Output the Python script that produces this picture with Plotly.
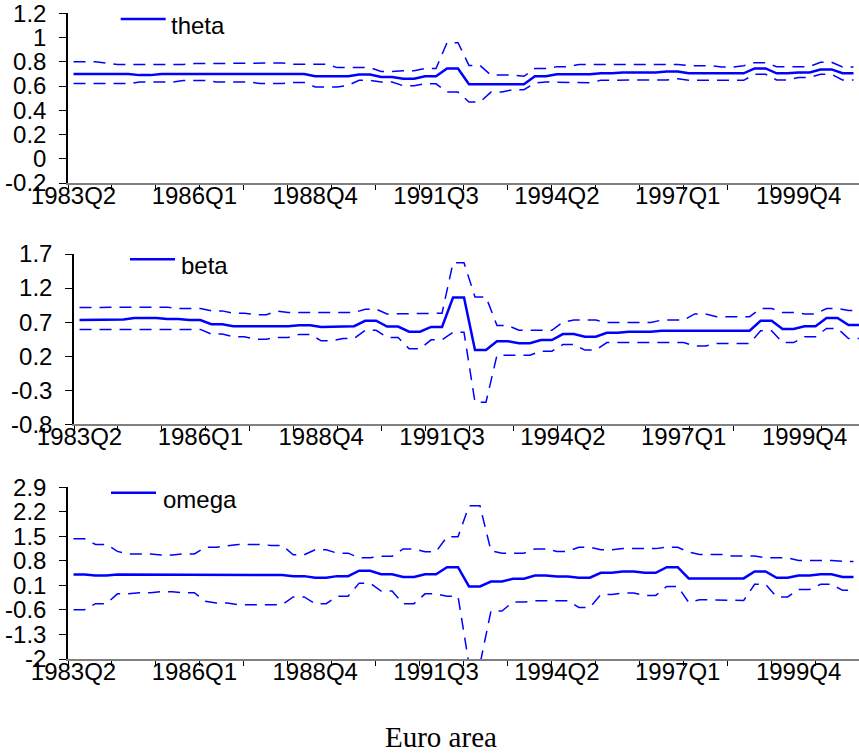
import plotly.graph_objects as go

# ---------------- data ----------------
all_q = [f"{y}Q{q}" for y in range(1983, 2002) for q in range(1, 5)]
quarters = all_q[1:73]  # 1983Q2 .. 2001Q1
tick_labels = ["1983Q2", "1986Q1", "1988Q4", "1991Q3", "1994Q2", "1997Q1", "1999Q4"]

theta = [0.70, 0.70, 0.70, 0.70, 0.70, 0.70, 0.69, 0.69, 0.70, 0.70, 0.70, 0.70,
         0.70, 0.70, 0.70, 0.70, 0.70, 0.70, 0.70, 0.70, 0.70, 0.70, 0.68, 0.68,
         0.68, 0.68, 0.695, 0.695, 0.675, 0.675, 0.66, 0.66, 0.68, 0.68, 0.745, 0.745,
         0.615, 0.615, 0.615, 0.615, 0.615, 0.615, 0.68, 0.68, 0.697, 0.697, 0.697, 0.697,
         0.705, 0.705, 0.712, 0.712, 0.712, 0.712, 0.72, 0.72, 0.705, 0.705, 0.705, 0.705,
         0.705, 0.705, 0.745, 0.745, 0.705, 0.705, 0.712, 0.712, 0.737, 0.737, 0.705, 0.705]
theta_up = [0.80, 0.80, 0.80, 0.79, 0.778, 0.778, 0.778, 0.778, 0.778, 0.778, 0.778, 0.785,
            0.785, 0.785, 0.785, 0.785, 0.79, 0.79, 0.79, 0.79, 0.78, 0.78, 0.78, 0.78,
            0.752, 0.752, 0.752, 0.752, 0.72, 0.72, 0.727, 0.727, 0.744, 0.744, 0.958, 0.958,
            0.77, 0.77, 0.69, 0.69, 0.69, 0.68, 0.744, 0.744, 0.76, 0.76, 0.777, 0.777,
            0.777, 0.777, 0.777, 0.777, 0.777, 0.777, 0.777, 0.777, 0.768, 0.768, 0.768, 0.757,
            0.757, 0.768, 0.793, 0.793, 0.76, 0.76, 0.76, 0.76, 0.796, 0.796, 0.757, 0.757]
theta_lo = [0.62, 0.62, 0.62, 0.62, 0.62, 0.62, 0.633, 0.633, 0.633, 0.633, 0.645, 0.645,
            0.645, 0.633, 0.633, 0.633, 0.633, 0.62, 0.62, 0.62, 0.63, 0.63, 0.592, 0.592,
            0.592, 0.606, 0.647, 0.647, 0.633, 0.633, 0.603, 0.603, 0.618, 0.618, 0.55, 0.55,
            0.468, 0.468, 0.55, 0.55, 0.57, 0.57, 0.625, 0.633, 0.633, 0.633, 0.627, 0.627,
            0.647, 0.65, 0.65, 0.65, 0.65, 0.65, 0.65, 0.66, 0.647, 0.647, 0.647, 0.647,
            0.647, 0.647, 0.697, 0.697, 0.65, 0.65, 0.67, 0.67, 0.697, 0.697, 0.65, 0.65]

beta = [0.73, 0.73, 0.73, 0.73, 0.74, 0.76, 0.76, 0.76, 0.745, 0.745, 0.73, 0.73,
        0.67, 0.67, 0.64, 0.64, 0.64, 0.63, 0.63, 0.64, 0.655, 0.655, 0.63, 0.63,
        0.64, 0.64, 0.72, 0.72, 0.635, 0.635, 0.56, 0.56, 0.63, 0.63, 1.06, 1.06,
        0.29, 0.29, 0.42, 0.42, 0.39, 0.39, 0.436, 0.436, 0.524, 0.524, 0.485, 0.485,
        0.543, 0.543, 0.558, 0.558, 0.558, 0.572, 0.572, 0.572, 0.572, 0.572, 0.572, 0.572,
        0.572, 0.575, 0.72, 0.72, 0.60, 0.60, 0.64, 0.64, 0.76, 0.76, 0.656, 0.656]
beta_up = [0.915, 0.915, 0.915, 0.915, 0.915, 0.92, 0.92, 0.92, 0.92, 0.90, 0.90, 0.90,
           0.865, 0.865, 0.83, 0.83, 0.81, 0.81, 0.86, 0.84, 0.84, 0.84, 0.84, 0.84,
           0.84, 0.84, 0.89, 0.89, 0.82, 0.82, 0.83, 0.83, 0.83, 0.83, 1.57, 1.57,
           1.07, 1.07, 0.65, 0.65, 0.58, 0.58, 0.58, 0.58, 0.70, 0.73, 0.73, 0.73,
           0.695, 0.695, 0.695, 0.695, 0.695, 0.73, 0.73, 0.73, 0.82, 0.82, 0.78, 0.78,
           0.78, 0.78, 0.90, 0.90, 0.84, 0.84, 0.82, 0.82, 0.90, 0.90, 0.87, 0.87]
beta_lo = [0.593, 0.593, 0.593, 0.593, 0.593, 0.593, 0.593, 0.593, 0.593, 0.593, 0.593, 0.593,
           0.524, 0.524, 0.485, 0.485, 0.45, 0.45, 0.475, 0.475, 0.52, 0.52, 0.426, 0.426,
           0.46, 0.46, 0.58, 0.58, 0.475, 0.475, 0.31, 0.31, 0.44, 0.44, 0.55, 0.55,
           -0.475, -0.475, 0.215, 0.215, 0.215, 0.215, 0.274, 0.274, 0.37, 0.37, 0.29, 0.29,
           0.40, 0.40, 0.40, 0.40, 0.40, 0.40, 0.40, 0.40, 0.35, 0.35, 0.387, 0.387,
           0.387, 0.387, 0.572, 0.572, 0.40, 0.40, 0.485, 0.485, 0.607, 0.607, 0.46, 0.46]

omega = [0.41, 0.41, 0.385, 0.385, 0.41, 0.41, 0.41, 0.41, 0.41, 0.41, 0.41, 0.395,
         0.395, 0.395, 0.395, 0.395, 0.395, 0.395, 0.395, 0.395, 0.365, 0.365, 0.32, 0.32,
         0.365, 0.365, 0.52, 0.52, 0.42, 0.42, 0.34, 0.34, 0.42, 0.42, 0.62, 0.62,
         0.07, 0.07, 0.21, 0.21, 0.29, 0.29, 0.38, 0.38, 0.355, 0.355, 0.32, 0.32,
         0.46, 0.46, 0.50, 0.50, 0.46, 0.46, 0.62, 0.62, 0.30, 0.30, 0.30, 0.30,
         0.30, 0.30, 0.50, 0.50, 0.32, 0.32, 0.38, 0.38, 0.42, 0.42, 0.34, 0.34]
omega_up = [1.43, 1.43, 1.27, 1.27, 1.07, 1.0, 1.0, 1.0, 0.965, 0.965, 1.0, 1.0,
            1.19, 1.19, 1.23, 1.27, 1.27, 1.27, 1.24, 1.24, 0.975, 0.975, 1.12, 1.12,
            1.02, 1.02, 0.89, 0.89, 0.93, 0.93, 1.14, 1.14, 1.06, 1.06, 1.49, 1.49,
            2.37, 2.37, 1.09, 1.02, 1.02, 1.02, 1.14, 1.14, 1.07, 1.07, 1.19, 1.19,
            1.12, 1.12, 1.15, 1.15, 1.15, 1.15, 1.19, 1.19, 1.05, 0.985, 0.985, 0.985,
            0.94, 0.94, 0.94, 0.89, 0.89, 0.89, 0.81, 0.81, 0.81, 0.81, 0.785, 0.785]
omega_lo = [-0.595, -0.595, -0.42, -0.42, -0.14, -0.14, -0.11, -0.11, -0.08, -0.08, -0.11, -0.11,
            -0.35, -0.405, -0.405, -0.45, -0.45, -0.45, -0.45, -0.45, -0.23, -0.23, -0.42, -0.42,
            -0.21, -0.21, 0.165, 0.165, -0.06, -0.06, -0.42, -0.42, -0.14, -0.14, -0.21, -0.21,
            -2.15, -2.15, -0.63, -0.63, -0.375, -0.375, -0.34, -0.34, -0.34, -0.34, -0.53, -0.53,
            -0.16, -0.16, -0.12, -0.12, -0.185, -0.185, 0.07, 0.07, -0.385, -0.31, -0.31, -0.31,
            -0.33, -0.33, 0.13, 0.13, -0.23, -0.23, -0.015, -0.015, 0.13, 0.13, -0.04, -0.04]

theta_ticks = [-0.2, 0, 0.2, 0.4, 0.6, 0.8, 1, 1.2]
theta_ticktext = ["-0.2", "0", "0.2", "0.4", "0.6", "0.8", "1", "1.2"]
beta_ticks = [-0.8, -0.3, 0.2, 0.7, 1.2, 1.7]
beta_ticktext = ["-0.8", "-0.3", "0.2", "0.7", "1.2", "1.7"]
omega_ticks = [-2, -1.3, -0.6, 0.1, 0.8, 1.5, 2.2, 2.9]
omega_ticktext = ["-2", "-1.3", "-0.6", "0.1", "0.8", "1.5", "2.2", "2.9"]

# ---------------- layout helpers ----------------
W, H = 859, 754
ML, MR, MT, MB = 68, 0, 13, 95
PW, PH = W - ML - MR, H - MT - MB

def ydom(top_px, bot_px):
    return [max(0.0, (H - MB - bot_px) / PH), min(1.0, (H - MB - top_px) / PH)]

def px_x(px):
    return (px - ML) / PW

def px_y(py):
    return (H - MB - py) / PH

BLUE = "#0000ff"
FONT = "Liberation Sans, Arial, sans-serif"
x = list(range(len(quarters)))
lab_pos = [quarters.index(t) for t in tick_labels]
px_per_q = PW / len(quarters)

panels = [
    ("theta", theta, theta_up, theta_lo, theta_ticks, theta_ticktext, ydom(13.3, 183), 0),
    ("beta", beta, beta_up, beta_lo, beta_ticks, beta_ticktext, ydom(254, 424.3), 6),
    ("omega", omega, omega_up, omega_lo, omega_ticks, omega_ticktext, ydom(487.3, 659), 0),
]
# legend key placement (pixels): line x0, x1, y ; text left x
legend_keys = [(120.7, 165.7, 19.0, 171), (130, 175, 259.3, 181), (111, 156, 492.7, 162.7)]

fig = go.Figure()
layout = dict(
    width=W, height=H,
    margin=dict(l=ML, r=MR, t=MT, b=MB, pad=0),
    paper_bgcolor="white", plot_bgcolor="white",
    font=dict(family=FONT, size=24, color="black"),
    showlegend=False,
)
shapes, annotations = [], []

for i, (name, mid, up, lo, yt, ytt, dom, xoff) in enumerate(panels):
    n = "" if i == 0 else str(i + 1)
    xa, ya = "x" + n, "y" + n
    for s, dash, w, nm in ((up, "12px,8px", 1.5, name + " upper"), (lo, "12px,8px", 1.5, name + " lower"),
                           (mid, "solid", 2.5, name)):
        fig.add_trace(go.Scatter(
            x=x, y=s, xaxis=xa, yaxis=ya, mode="lines", name=nm,
            line=dict(color=BLUE, width=w, dash=dash), hoverinfo="skip"))
    x_end = -0.5 + (PW - xoff) / px_per_q
    eps = 1e-6
    layout["xaxis" + n] = dict(
        domain=[xoff / PW, 1.0], anchor=ya, range=[-0.5, x_end],
        tickmode="array", tickvals=lab_pos, ticktext=tick_labels,
        ticks="", showgrid=False, zeroline=False,
        showline=True, linecolor="#808080", linewidth=2,
        tickfont=dict(family=FONT, size=24, color="black"),
        minor=dict(tick0=-0.5, dtick=4, ticks="outside", ticklen=5,
                   tickcolor="black", tickwidth=1, showgrid=False),
        ticklabelstandoff=-10, ticklabeloverflow="allow",
    )
    layout["yaxis" + n] = dict(
        domain=dom, anchor=xa, range=[yt[0] - eps, yt[-1] + eps],
        tickmode="array", tickvals=yt, ticktext=ytt,
        ticks="outside", ticklen=7, tickcolor="black", tickwidth=1,
        showgrid=False, zeroline=False,
        showline=True, linecolor="black", linewidth=1.5,
        tickfont=dict(family=FONT, size=24, color="black"),
        ticklabelstandoff=8, ticklabeloverflow="allow",
    )
    # legend key: short solid line + series name
    lx0, lx1, ly, tx = legend_keys[i]
    shapes.append(dict(type="line", xref="paper", yref="paper",
                       x0=px_x(lx0), x1=px_x(lx1), y0=px_y(ly), y1=px_y(ly),
                       line=dict(color=BLUE, width=2.5)))
    annotations.append(dict(text=name, xref="paper", yref="paper",
                            x=px_x(tx - 2), y=px_y(ly - 9), xanchor="left", yanchor="top",
                            showarrow=False, font=dict(family=FONT, size=24, color="black")))

annotations.append(dict(
    text="Euro area", xref="paper", yref="paper",
    x=px_x(441), y=px_y(737), xanchor="center", yanchor="middle",
    showarrow=False, font=dict(family="Liberation Serif, Times New Roman, serif", size=29, color="black"),
))
layout["shapes"] = shapes
layout["annotations"] = annotations

fig.update_layout(**layout)
fig.write_html("out.html")
